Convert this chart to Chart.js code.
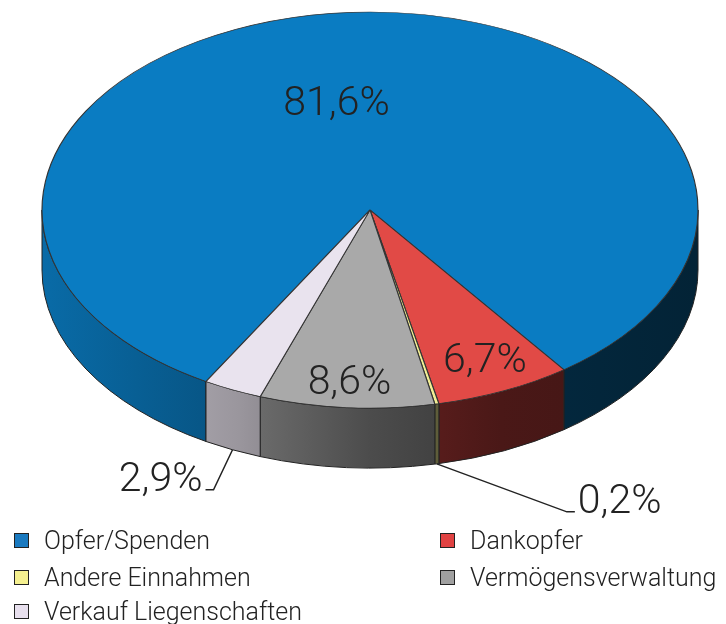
<!DOCTYPE html>
<html>
<head>
<meta charset="utf-8">
<script src="https://cdn.jsdelivr.net/npm/chart.js@4.4.1/dist/chart.umd.min.js"></script>
<style>
  html, body { margin: 0; padding: 0; background: #fff; }
  #wrap { position: relative; width: 726px; height: 624px; overflow: hidden; }
  #chartBox { position: absolute; left: 0; top: 0; width: 726px; height: 520px; }
  #legend { position: absolute; left: 0; top: 0; width: 726px; height: 624px; pointer-events: none;
    font-family: Roboto, 'Liberation Sans', sans-serif; font-weight: 300; font-size: 25px; color: #222; }
  .item { position: absolute; display: flex; align-items: center; white-space: nowrap; height: 30px; }
  .box { width: 13px; height: 13px; border: 1.5px solid #222; margin-right: 15px; }
</style>
</head>
<body>
<div id="wrap">
  <div id="chartBox"><canvas id="pie"></canvas></div>
  <div id="legend"></div>
</div>
<script>
// data
const labels = ['Opfer/Spenden', 'Dankopfer', 'Andere Einnahmen', 'Vermögensverwaltung', 'Verkauf Liegenschaften'];
const shares = [81.6, 6.7, 0.2, 8.6, 2.9];

// styles
const topColors    = ['#0a7cc2', '#e14a46', '#f2ee94', '#a9a9a9', '#e9e3ee'];
const legendColors = ['#1a7ac0', '#e04242', '#f5f090', '#a0a0a0', '#e8e0ee'];
const RX = 328, RY = 198, DEPTH = 60;

// where each percent label goes: f = radial fraction, dx = nudge, lead = leader line [dx, dy, tail]
const labelPlace = [
  { f: 0.53, dx: -24 },
  { f: 0.84, dx: 2 },
  { lead: [130, 48, 8] },
  { f: 0.88, dx: 0 },
  { lead: [-19, 40, -8] },
];

const fmtPct = v => v.toFixed(1).replace('.', ',') + '%';

function shade(hex, f) {
  const r = parseInt(hex.slice(1, 3), 16), g = parseInt(hex.slice(3, 5), 16), b = parseInt(hex.slice(5, 7), 16);
  return `rgb(${Math.round(r * f)},${Math.round(g * f)},${Math.round(b * f)})`;
}

// visible (front) parts of an angle range: where sin(a) > 0
function frontParts(s, e) {
  const out = [], TAU = Math.PI * 2;
  for (let k = Math.floor(s / TAU) - 1; k <= Math.ceil(e / TAU); k++) {
    const a = Math.max(s, k * TAU), b = Math.min(e, k * TAU + Math.PI);
    if (b > a) out.push([a, b]);
  }
  return out;
}

const pie3d = {
  id: 'pie3d',
  beforeDatasetsDraw(chart) {
    const ctx = chart.ctx;
    const arcs = chart.getDatasetMeta(0).data;
    const { x: cx, y: cy, outerRadius: r } = arcs[0];

    // side walls
    arcs.forEach((arc, i) => {
      frontParts(arc.startAngle, arc.endAngle).forEach(([a, b]) => {
        const g = ctx.createLinearGradient(cx - RX, 0, cx + RX, 0);
        g.addColorStop(0, shade(topColors[i], 0.86));
        g.addColorStop(0.3, shade(topColors[i], 0.66));
        g.addColorStop(0.5, shade(topColors[i], 0.45));
        g.addColorStop(0.7, shade(topColors[i], 0.33));
        g.addColorStop(1, shade(topColors[i], 0.28));
        ctx.beginPath();
        ctx.ellipse(cx, cy, RX, RY, 0, a, b, false);
        ctx.ellipse(cx, cy + DEPTH, RX, RY, 0, b, a, true);
        ctx.closePath();
        ctx.fillStyle = g;
        ctx.fill();
        ctx.lineWidth = 1;
        ctx.strokeStyle = '#222';
        ctx.stroke();
      });
    });

    // squash the round pie into the top ellipse
    ctx.save();
    ctx.translate(cx, cy);
    ctx.scale(RX / r, RY / r);
    ctx.translate(-cx, -cy);
  },
  afterDatasetsDraw(chart) {
    const ctx = chart.ctx;
    ctx.restore();
    const arcs = chart.getDatasetMeta(0).data;
    const { x: cx, y: cy } = arcs[0];

    ctx.save();
    ctx.font = "300 41px Roboto, 'Liberation Sans', sans-serif";
    ctx.fillStyle = '#222';
    ctx.strokeStyle = '#222';
    ctx.lineWidth = 1.5;
    arcs.forEach((arc, i) => {
      const m = (arc.startAngle + arc.endAngle) / 2;
      const p = labelPlace[i];
      const txt = fmtPct(shares[i]);
      if (p.lead) {
        const ax = cx + RX * Math.cos(m), ay = cy + RY * Math.sin(m) + DEPTH;
        const ex = ax + p.lead[0], ey = ay + p.lead[1];
        const tx = ex + p.lead[2];
        ctx.beginPath();
        ctx.moveTo(ax, ay);
        ctx.lineTo(ex, ey);
        ctx.lineTo(tx, ey);
        ctx.stroke();
        ctx.textBaseline = 'alphabetic';
        ctx.textAlign = p.lead[2] > 0 ? 'left' : 'right';
        ctx.fillText(txt, tx + (p.lead[2] > 0 ? 3 : -3), ey + 1);
      } else {
        ctx.textAlign = 'center';
        ctx.textBaseline = 'middle';
        ctx.fillText(txt, cx + RX * p.f * Math.cos(m) + p.dx, cy + RY * p.f * Math.sin(m));
      }
    });
    ctx.restore();
  }
};

new Chart(document.getElementById('pie'), {
  type: 'pie',
  data: {
    labels,
    datasets: [{
      data: shares,
      backgroundColor: topColors,
      borderColor: '#333',
      borderWidth: 0.7,
      clip: false,
    }],
  },
  options: {
    responsive: true,
    maintainAspectRatio: false,
    animation: false,
    events: [],
    rotation: 210,
    layout: { padding: { left: 172, right: 158, top: 12, bottom: 112 } },
    plugins: { legend: { display: false }, tooltip: { enabled: false } },
  },
  plugins: [pie3d],
});

// legend, two columns row by row
const colX = [14, 440], rowY = [540, 577, 611];
const legend = document.getElementById('legend');
labels.forEach((name, i) => {
  const el = document.createElement('div');
  el.className = 'item';
  el.style.left = colX[i % 2] + 'px';
  el.style.top = (rowY[Math.floor(i / 2)] - 15) + 'px';
  el.innerHTML = `<span class="box" style="background:${legendColors[i]}"></span><span>${name}</span>`;
  legend.appendChild(el);
});
</script>
</body>
</html>
